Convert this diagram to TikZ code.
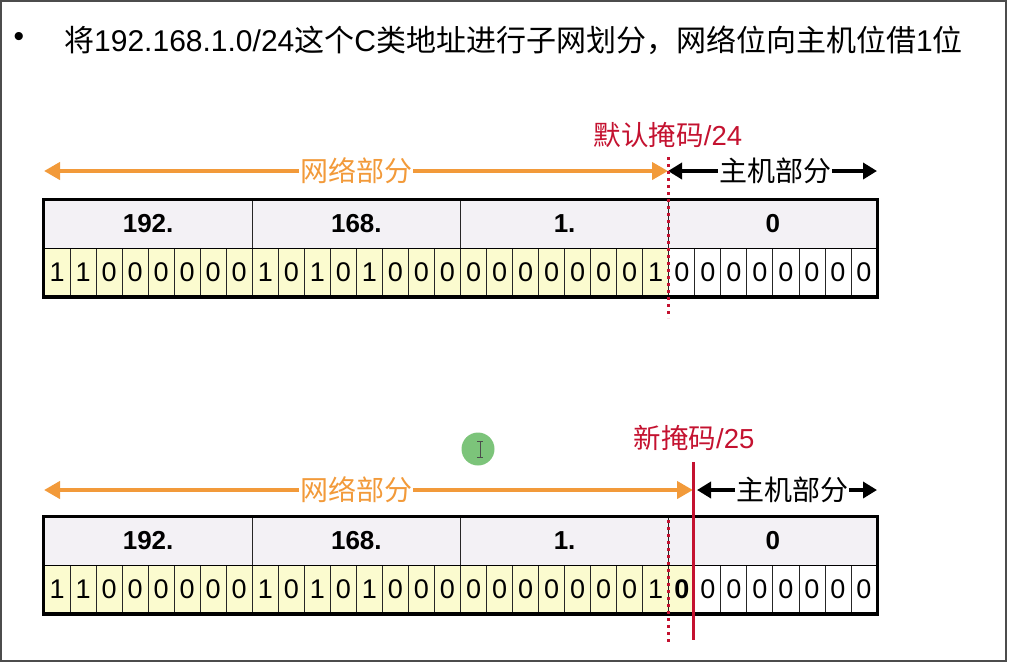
\documentclass[tikz,border=0pt]{standalone}
\usepackage{fontspec}
\setmainfont{Liberation Sans}
\newfontfamily\cjk{Noto Sans CJK SC}
\usetikzlibrary{arrows.meta}
\definecolor{hdr}{HTML}{F3F1F5}
\definecolor{bity}{HTML}{FBFBCF}
\definecolor{mred}{HTML}{C41230}
\definecolor{morange}{HTML}{F29A3A}
\definecolor{cgreen}{HTML}{7CC47A}
\tikzset{
  bitcell/.style={draw=black!85, line width=0.8pt, minimum width=26.03pt, minimum height=48.5pt, inner sep=0pt, font=\fontsize{27}{27}\selectfont},
  hdrcell/.style={draw=black!85, line width=0.8pt, fill=hdr, minimum width=208.25pt, minimum height=48pt, inner sep=0pt, font=\fontsize{26}{26}\selectfont\bfseries},
  outer/.style={draw=black, line width=3.5pt},
  netlbl/.style={text=morange, font=\fontsize{28}{28}\selectfont\cjk, inner sep=1pt},
  hostlbl/.style={text=black, font=\fontsize{28}{28}\selectfont\cjk, inner sep=1pt},
  masklbl/.style={text=mred, font=\fontsize{27.5}{27.5}\selectfont, inner sep=0pt},
  oarrow/.style={draw=morange, line width=4pt, -{Triangle[length=16pt,width=17pt]}},
  karrow/.style={draw=black, line width=4pt, -{Triangle[length=14pt,width=16pt]}},
  dotline/.style={draw=mred, line width=3pt, dash pattern=on 3pt off 4pt},
  maskline/.style={draw=mred, line width=3pt},
}
\begin{document}
\begin{tikzpicture}[x=1pt,y=-1pt]
\useasboundingbox (0,0) rectangle (1011,665);
\draw[line width=1.5pt, black!70] (1,1) rectangle (1006,661);
% title
\node[font=\fontsize{30}{30}\selectfont] (bullet) at (19,39) {•};
\node[anchor=west, font=\fontsize{30}{31}\selectfont, inner sep=0pt] (title) at (64,40)
  {{\cjk 将}192.168.1.0/24{\cjk 这个}C{\cjk 类地址进行子网划分，网络位向主机位借}1{\cjk 位}};

% ===== table 1 =====
\node[hdrcell] (ha1) at (148.125,224) {192.};
\node[hdrcell] (ha2) at (356.375,224) {168.};
\node[hdrcell] (ha3) at (564.625,224) {1.};
\node[hdrcell] (ha4) at (772.875,224) {0};
\foreach \b [count=\n from 0] in {1,1,0,0,0,0,0,0,1,0,1,0,1,0,0,0,0,0,0,0,0,0,0,1,0,0,0,0,0,0,0,0} {
  \ifnum\n<24 \def\fc{bity}\else\def\fc{white}\fi
  \node[bitcell, fill=\fc] (ba\n) at ({44+26.03125*(\n+0.5)},272.5) {\b};
}
\draw[outer] (ha1.north west) rectangle (ba31.south east);
\draw[black, line width=1.2pt] (ha1.south west) -- (ha4.south east);

% arrows 1
\node[netlbl] (net1) at (356,171) {网络部分};
\coordinate (n1L) at (44,171);
\coordinate (n1R) at (668,171);
\draw[oarrow] (net1.west) -- (n1L);
\draw[oarrow] (net1.east) -- (n1R);
\node[hostlbl] (host1) at (775,171) {主机部分};
\coordinate (h1L) at (668,171);
\coordinate (h1R) at (877,171);
\draw[karrow] (host1.west) -- (h1L);
\draw[karrow] (host1.east) -- (h1R);
\node[masklbl] (mask1) at (668,135) {{\cjk 默认掩码}/24};
\coordinate (d1T) at (668,157);
\coordinate (d1B) at (668,318);
\draw[dotline] (d1T) -- (d1B);

% ===== table 2 =====
\node[hdrcell] (hb1) at (148.125,541) {192.};
\node[hdrcell] (hb2) at (356.375,541) {168.};
\node[hdrcell] (hb3) at (564.625,541) {1.};
\node[hdrcell] (hb4) at (772.875,541) {0};
\foreach \b [count=\n from 0] in {1,1,0,0,0,0,0,0,1,0,1,0,1,0,0,0,0,0,0,0,0,0,0,1,0,0,0,0,0,0,0,0} {
  \ifnum\n<25 \def\fc{bity}\else\def\fc{white}\fi
  \ifnum\n=24 \def\ff{\bfseries}\else\def\ff{}\fi
  \node[bitcell, fill=\fc] (bb\n) at ({44+26.03125*(\n+0.5)},589.25) {\ff\b};
}
\draw[outer] (hb1.north west) rectangle (bb31.south east);
\draw[black, line width=1.2pt] (hb1.south west) -- (hb4.south east);

% arrows 2
\node[netlbl] (net2) at (356,490) {网络部分};
\coordinate (n2L) at (44,490);
\coordinate (n2R) at (693,490);
\draw[oarrow] (net2.west) -- (n2L);
\draw[oarrow] (net2.east) -- (n2R);
\node[hostlbl] (host2) at (792,490) {主机部分};
\coordinate (h2L) at (697,490);
\coordinate (h2R) at (877,490);
\draw[karrow] (host2.west) -- (h2L);
\draw[karrow] (host2.east) -- (h2R);
\node[masklbl] (mask2) at (694,438) {{\cjk 新掩码}/25};
\coordinate (d2T) at (668,520);
\coordinate (d2B) at (668,642);
\draw[dotline] (d2T) -- (d2B);
\coordinate (m2T) at (693,462);
\coordinate (m2B) at (693,640);
\draw[maskline] (m2T) -- (m2B);

% cursor marker
\node[circle, fill=cgreen, minimum size=33pt, inner sep=0pt] (cursor) at (478,449) {};
\draw[black!70, line width=0.8pt] (480,441) -- (480,457) (477,441) -- (483,441) (477,457) -- (483,457);
\end{tikzpicture}
\end{document}
